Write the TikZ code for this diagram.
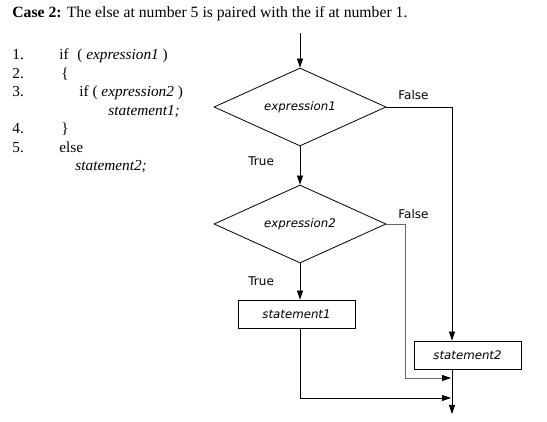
\documentclass[tikz,border=0pt]{standalone}
\usepackage{fontspec}
\setmainfont{Liberation Serif}
\newfontfamily\flowfont{DejaVu Sans}
\usetikzlibrary{shapes.geometric,arrows.meta}

\tikzset{
  decision/.style={draw,diamond,aspect=2.2,inner sep=0pt,minimum width=172pt,minimum height=78pt,font=\flowfont\fontsize{11.8}{13}\selectfont\itshape},
  stmtbox/.style={draw,rectangle,inner sep=0pt,minimum height=28pt,font=\flowfont\fontsize{11.8}{13}\selectfont\itshape},
  flowlabel/.style={anchor=west,inner sep=0pt,font=\flowfont\fontsize{12}{13}\selectfont},
  codeline/.style={anchor=base west,inner sep=0pt,font=\fontsize{15.3}{18}\selectfont},
  flowarrow/.style={-{Triangle[length=9pt,width=6pt,color=black]}},
}

\begin{document}
\begin{tikzpicture}[x=1pt,y=-1pt,line width=0.8pt]
\useasboundingbox (0,0) rectangle (547,422);
% The heading
\node[anchor=west,inner sep=0pt,font=\fontsize{15.7}{19}\selectfont] (title) at (12,14)
  {\textbf{Case 2:} The else at number 5 is paired with the if at number 1.};
% The code
\node[codeline] (n1) at (12,60) {1.};
\node[codeline] (n2) at (12,78.5) {2.};
\node[codeline] (n3) at (12,97) {3.};
\node[codeline] (n4) at (12,134) {4.};
\node[codeline] (n5) at (12,152.5) {5.};
\node[codeline] (if1) at (59,60) {if};
\node[codeline] (cond1) at (77,60) {( \textit{expression1} )};
\node[codeline] (open) at (61,78.5) {\{};
\node[codeline] (if2) at (79,97) {if ( \textit{expression2} )};
\node[codeline] (st1) at (108,115.5) {\textit{statement1;}};
\node[codeline] (close) at (61,134) {\}};
\node[codeline] (else) at (59,152.5) {else};
\node[codeline] (st2) at (75,171) {\textit{statement2;}};
% The flowchart
\coordinate (start) at (300,33);
\node[decision] (d1) at (300,107) {expression1};
\node[decision] (d2) at (300,224) {expression2};
\node[stmtbox,minimum width=117pt] (s1) at (296.5,314) {statement1};
\node[stmtbox,minimum width=107pt] (s2) at (467.5,355) {statement2};
\coordinate (stop) at (452,414);
\node[flowlabel] (t1) at (248,161) {True};
\node[flowlabel] (f1) at (398,95) {False};
\node[flowlabel] (t2) at (248,281) {True};
\node[flowlabel] (f2) at (398,214) {False};
% The connectors
\draw[flowarrow] (start) -- (d1.north);
\draw[flowarrow] (d1.south) -- (d2.north);
\draw[flowarrow] (d1.east) -- (452,107) -- (452,0 |- s2.north);
\draw[flowarrow] (d2.south) -- (d2.south |- s1.north);
\draw[flowarrow,black!60] (d2.east) -- (405.5,224) -- (405.5,378) -- (451,378);
\draw[flowarrow] (d2.south |- s1.south) -- (300,398) -- (451,398);
\draw[flowarrow] (452,0 |- s2.south) -- (stop);
\end{tikzpicture}
\end{document}
